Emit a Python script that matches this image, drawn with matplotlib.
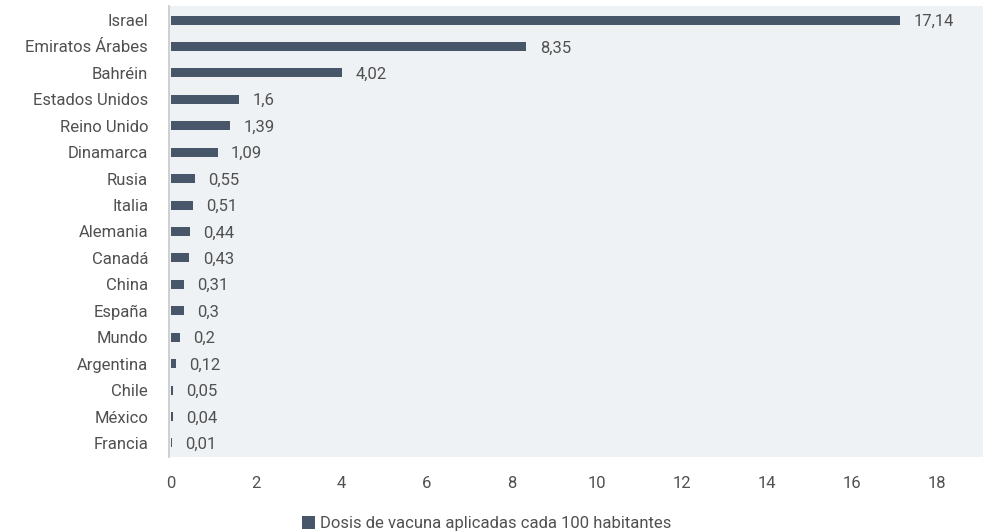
import matplotlib
matplotlib.use('Agg')
import matplotlib.pyplot as plt

plt.rcParams['font.family'] = ['Roboto', 'DejaVu Sans']

paises = ['Israel', 'Emiratos Árabes', 'Bahréin', 'Estados Unidos', 'Reino Unido',
          'Dinamarca', 'Rusia', 'Italia', 'Alemania', 'Canadá', 'China', 'España',
          'Mundo', 'Argentina', 'Chile', 'México', 'Francia']
dosis = [17.14, 8.35, 4.02, 1.6, 1.39, 1.09, 0.55, 0.51, 0.44, 0.43, 0.31, 0.3,
         0.2, 0.12, 0.05, 0.04, 0.01]
etiquetas = ['17,14', '8,35', '4,02', '1,6', '1,39', '1,09', '0,55', '0,51', '0,44',
             '0,43', '0,31', '0,3', '0,2', '0,12', '0,05', '0,04', '0,01']
xticks = [0, 2, 4, 6, 8, 10, 12, 14, 16, 18]

color_barra = '#48566a'
color_texto = '#505050'
fs = 12

fig = plt.figure(figsize=(9.85, 5.32), dpi=100)
ax = fig.add_axes([0.1716, 0.141, 0.8264, 0.8477])
ax.set_facecolor('#eff2f4')

pos = list(range(len(paises)))
ax.barh(pos, dosis, height=0.34, color=color_barra,
        label='Dosis de vacuna aplicadas cada 100 habitantes')

for p, v, t in zip(pos, dosis, etiquetas):
    ax.annotate(t, (v, p), xytext=(9.5, -1), textcoords='offset points',
                va='center', ha='left', fontsize=fs, color=color_texto)

ax.set_yticks(pos)
ax.set_yticklabels(paises)
ax.set_ylim(len(paises) - 0.47, -0.53)
ax.set_xlim(-0.05, 19.08)
ax.set_xticks(xticks)
ax.set_xticklabels([str(x) for x in xticks])
ax.tick_params(axis='y', length=0, pad=15, labelsize=fs, labelcolor=color_texto)
ax.tick_params(axis='x', length=0, pad=14, labelsize=fs, labelcolor=color_texto)

for s in ['top', 'right', 'bottom']:
    ax.spines[s].set_visible(False)
ax.spines['left'].set_color('#c8c8c8')
ax.spines['left'].set_linewidth(1.2)

fig.legend(loc='lower center', bbox_to_anchor=(0.494, -0.027), frameon=False,
           fontsize=fs, labelcolor=color_texto, handlelength=0.75, handleheight=0.75,
           handletextpad=0.3)

fig.savefig('out.png', dpi=100)
